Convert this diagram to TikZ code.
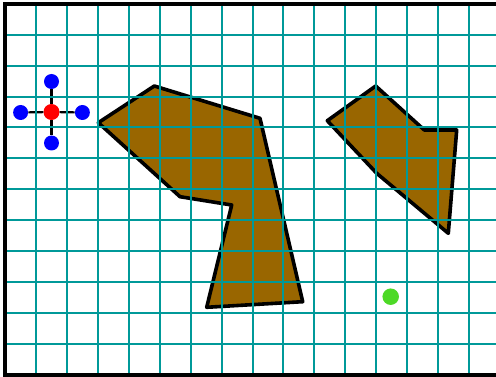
\documentclass[tikz,border=0pt]{standalone}
\definecolor{gridteal}{RGB}{0,153,153}
\definecolor{rockbrown}{RGB}{153,102,0}
\definecolor{goalgreen}{RGB}{77,217,38}
\begin{document}
\begin{tikzpicture}[x=1pt, y=-1pt,
  dot/.style={circle, inner sep=0pt, minimum size=16pt},
  obstacle/.style={draw=black, line width=3.6pt, fill=rockbrown, line join=round}]
  \useasboundingbox (0,0) rectangle (496,377);
  % obstacles
  \draw[obstacle] (98.3,122.7) -- (154.3,86) -- (260,118.3) -- (302.7,301.7)
    -- (206.7,307.3) -- (231.7,205) -- (180,196.7) -- cycle;
  \draw[obstacle] (327.3,120.7) -- (375.7,86) -- (424.3,130) -- (456.7,130)
    -- (448.3,233.3) -- (376.7,173.3) -- cycle;
  % robot and its neighbours
  \node[dot, fill=red] (robot) at (51.5,112) {};
  \node[dot, fill=blue, minimum size=15pt] (up) at (51.5,81.5) {};
  \node[dot, fill=blue, minimum size=15pt] (down) at (51.5,143) {};
  \node[dot, fill=blue, minimum size=15pt] (left) at (20.6,112.5) {};
  \node[dot, fill=blue, minimum size=15pt] (right) at (82.4,112.5) {};
  \foreach \nb in {up,down,left,right}
    \draw[line width=2.2pt] (robot) -- (\nb);
  % goal
  \node[dot, fill=goalgreen, minimum size=16.5pt] (goal) at (390.7,296.7) {};
  % grid (snapped to whole pixels)
  \foreach \i [evaluate=\i as \gx using {int(round(5.07+30.93*\i))}] in {1,...,15}
    \draw[gridteal, line width=2pt] (\gx,4) -- (\gx,374);
  \foreach \j [evaluate=\j as \gy using {int(round(3.77+30.93*\j))}] in {1,...,11}
    \draw[gridteal, line width=2pt] (5,\gy) -- (496,\gy);
  % frame (open on the right)
  \draw[line width=4pt] (496,4) -- (5,4) -- (5,375) -- (496,375);
\end{tikzpicture}
\end{document}
